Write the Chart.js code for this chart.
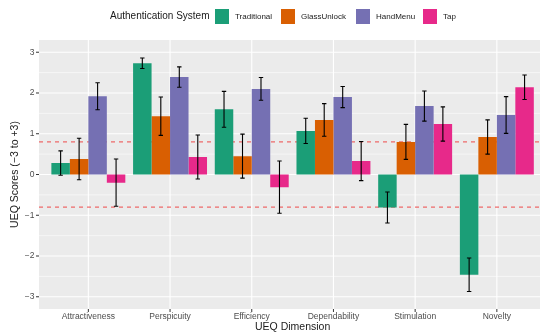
<!DOCTYPE html>
<html lang="en">
<head>
<meta charset="UTF-8">
<title>UEQ Scores by Authentication System</title>
<style>
  body { margin: 0; background: #fff; font-family: "Liberation Sans", Arial, sans-serif; }
  .wrap { position: relative; width: 540px; height: 333px; overflow: hidden; }
  canvas { position: absolute; left: 0; top: 0; }
  .leg { position: absolute; white-space: nowrap; color: #1a1a1a; }
  .leg-title { font-size: 10px; line-height: 12px; top: 10px; left: 110px; }
  .leg-box { position: absolute; top: 9px; width: 14px; height: 15px; }
  .leg-lab { font-size: 8px; line-height: 10px; top: 11.5px; }
</style>
</head>
<body>
<div class="wrap">
  <canvas id="myChart" width="540" height="333"></canvas>
  <div class="leg leg-title">Authentication System</div>
  <div class="leg-box" style="left:215px;background:#1B9E77"></div>
  <div class="leg leg-lab" style="left:235px">Traditional</div>
  <div class="leg-box" style="left:281px;background:#D95F02"></div>
  <div class="leg leg-lab" style="left:301px">GlassUnlock</div>
  <div class="leg-box" style="left:355.5px;background:#7570B3"></div>
  <div class="leg leg-lab" style="left:376px">HandMenu</div>
  <div class="leg-box" style="left:423px;background:#E7298A"></div>
  <div class="leg leg-lab" style="left:443px">Tap</div>
</div>
<script src="https://cdn.jsdelivr.net/npm/chart.js"></script>
<script>
  // dados
  const categories = ['Attractiveness', 'Perspicuity', 'Efficiency', 'Dependability', 'Stimulation', 'Novelty'];
  const systems = ['Traditional', 'GlassUnlock', 'HandMenu', 'Tap'];
  const traditional = [0.28, 2.73, 1.60, 1.07, -0.81, -2.46];
  const traditionalErr = [0.30, 0.13, 0.44, 0.31, 0.38, 0.41];
  const glassUnlock = [0.38, 1.43, 0.45, 1.34, 0.80, 0.92];
  const glassUnlockErr = [0.51, 0.47, 0.54, 0.40, 0.43, 0.42];
  const handMenu = [1.92, 2.39, 2.10, 1.90, 1.68, 1.46];
  const handMenuErr = [0.33, 0.25, 0.28, 0.26, 0.37, 0.45];
  const tap = [-0.20, 0.43, -0.31, 0.33, 1.24, 2.14];
  const tapErr = [0.58, 0.54, 0.64, 0.48, 0.42, 0.30];
  const thresholds = [0.8, -0.8];
  const yTicks = [-3, -2, -1, 0, 1, 2, 3];
  const yMinorTicks = [-2.5, -1.5, -0.5, 0.5, 1.5, 2.5];

  const colors = ['#1B9E77', '#D95F02', '#7570B3', '#E7298A'];
  const seriesValues = [traditional, glassUnlock, handMenu, tap];
  const seriesErrors = [traditionalErr, glassUnlockErr, handMenuErr, tapErr];

  const FONT = '"Liberation Sans", Arial, sans-serif';
  const PANEL_LEFT = 39;

  // painel cinza + grade estilo ggplot
  const panelPlugin = {
    id: 'panel',
    beforeDraw(chart) {
      const { ctx, chartArea, scales } = chart;
      const left = PANEL_LEFT, right = chart.width;
      ctx.save();
      ctx.fillStyle = '#EBEBEB';
      ctx.fillRect(left, chartArea.top, right - left, chartArea.bottom - chartArea.top);
      ctx.strokeStyle = '#FFFFFF';
      ctx.lineWidth = 0.55;
      yMinorTicks.forEach(v => {
        const y = scales.y.getPixelForValue(v);
        ctx.beginPath(); ctx.moveTo(left, y); ctx.lineTo(right, y); ctx.stroke();
      });
      ctx.lineWidth = 1.1;
      yTicks.forEach(v => {
        const y = scales.y.getPixelForValue(v);
        ctx.beginPath(); ctx.moveTo(left, y); ctx.lineTo(right, y); ctx.stroke();
      });
      categories.forEach((c, i) => {
        const x = scales.x.getPixelForValue(i);
        ctx.beginPath(); ctx.moveTo(x, chartArea.top); ctx.lineTo(x, chartArea.bottom); ctx.stroke();
      });
      // marcas dos eixos
      ctx.strokeStyle = '#333333';
      ctx.lineWidth = 1;
      yTicks.forEach(v => {
        const y = scales.y.getPixelForValue(v);
        ctx.beginPath(); ctx.moveTo(left - 3, y); ctx.lineTo(left, y); ctx.stroke();
      });
      categories.forEach((c, i) => {
        const x = scales.x.getPixelForValue(i);
        ctx.beginPath(); ctx.moveTo(x, chartArea.bottom); ctx.lineTo(x, chartArea.bottom + 3); ctx.stroke();
      });
      ctx.restore();
    },
    beforeDatasetsDraw(chart) {
      const { ctx, scales } = chart;
      ctx.save();
      ctx.strokeStyle = 'rgba(240, 40, 40, 0.75)';
      ctx.lineWidth = 1.1;
      ctx.setLineDash([4, 4]);
      thresholds.forEach(t => {
        const y = scales.y.getPixelForValue(t);
        ctx.beginPath(); ctx.moveTo(PANEL_LEFT, y); ctx.lineTo(chart.width, y); ctx.stroke();
      });
      ctx.restore();
    }
  };

  // barras de erro
  const errorBarPlugin = {
    id: 'errorBars',
    afterDatasetsDraw(chart) {
      const { ctx, scales } = chart;
      ctx.save();
      ctx.strokeStyle = '#000000';
      ctx.lineWidth = 1.1;
      seriesValues.forEach((vals, d) => {
        const meta = chart.getDatasetMeta(d);
        vals.forEach((v, i) => {
          const x = meta.data[i].x;
          const yHi = scales.y.getPixelForValue(v + seriesErrors[d][i]);
          const yLo = scales.y.getPixelForValue(v - seriesErrors[d][i]);
          ctx.beginPath();
          ctx.moveTo(x, yHi); ctx.lineTo(x, yLo);
          ctx.moveTo(x - 2.2, yHi); ctx.lineTo(x + 2.2, yHi);
          ctx.moveTo(x - 2.2, yLo); ctx.lineTo(x + 2.2, yLo);
          ctx.stroke();
        });
      });
      ctx.restore();
    }
  };

  const ctx = document.getElementById('myChart');

  new Chart(ctx, {
    type: 'bar',
    data: {
      labels: categories,
      datasets: systems.map((s, i) => ({
        label: s,
        data: seriesValues[i],
        backgroundColor: colors[i],
        borderWidth: 0,
        categoryPercentage: 0.905,
        barPercentage: 1.0
      }))
    },
    options: {
      responsive: false,
      animation: false,
      layout: { padding: { top: 40, right: 2.3, left: 0, bottom: 0 } },
      plugins: {
        legend: { display: false },
        tooltip: { enabled: false }
      },
      scales: {
        x: {
          grid: { display: false, drawTicks: false },
          border: { display: false },
          ticks: {
            color: '#4D4D4D',
            font: { family: FONT, size: 8.5 },
            padding: 3,
            maxRotation: 0,
            autoSkip: false
          },
          title: {
            display: true,
            text: 'UEQ Dimension',
            color: '#1a1a1a',
            font: { family: FONT, size: 10.5 },
            padding: { top: 0, bottom: 0 }
          },
          afterFit(scale) { scale.height = 24; }
        },
        y: {
          min: -3.3,
          max: 3.3,
          grid: { display: false, drawTicks: false },
          border: { display: false },
          afterBuildTicks(scale) { scale.ticks = yTicks.map(v => ({ value: v })); },
          ticks: {
            color: '#4D4D4D',
            font: { family: FONT, size: 8.5 },
            padding: 13,
            callback: v => (v < 0 ? '\u2212' + Math.abs(v) : String(v))
          },
          title: {
            display: true,
            text: 'UEQ Scores (\u22123 to +3)',
            color: '#1a1a1a',
            font: { family: FONT, size: 10.5 },
            padding: { top: 8.7, bottom: 0 }
          },
          afterFit(scale) { scale.width = 47.5; }
        }
      }
    },
    plugins: [panelPlugin, errorBarPlugin]
  });
</script>
</body>
</html>
